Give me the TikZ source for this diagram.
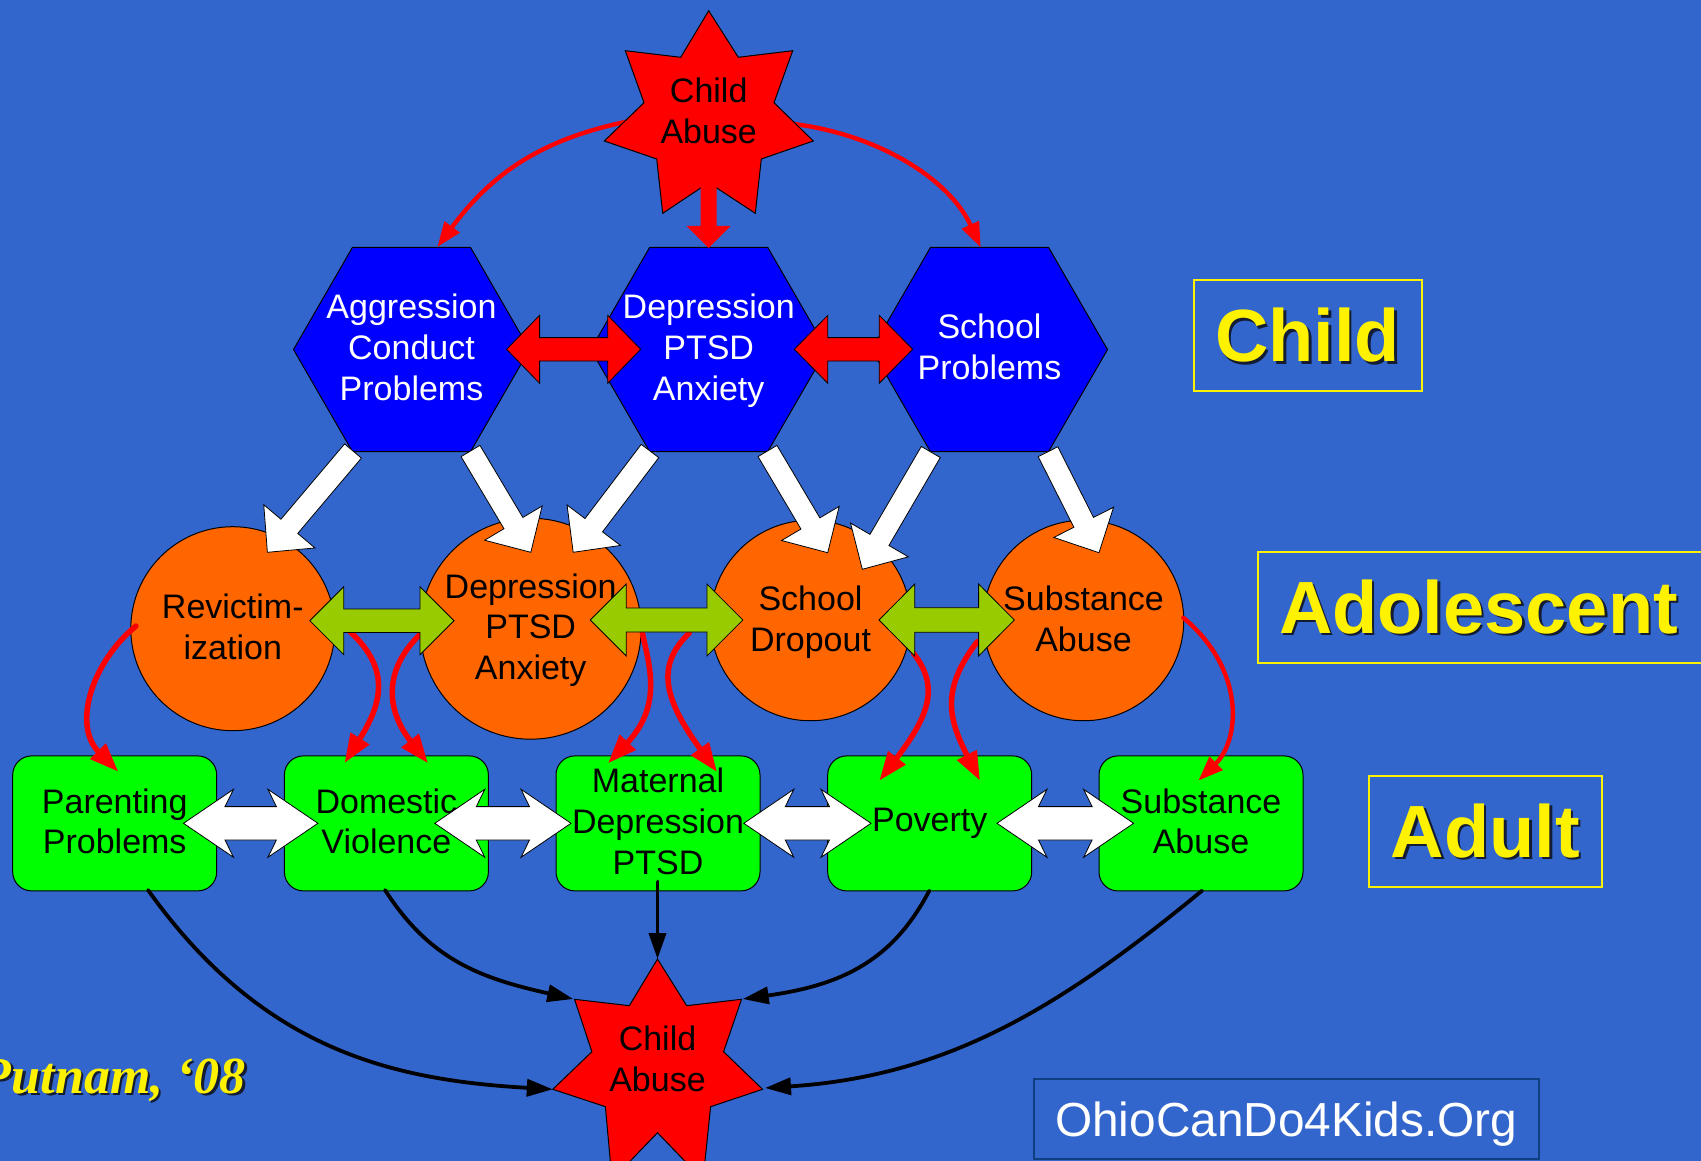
\documentclass[tikz,border=0pt]{standalone}
\usepackage{fontspec}
\setmainfont{Liberation Sans}
\newfontfamily\putfont{Liberation Serif}
\usetikzlibrary{calc,shapes.geometric,arrows.meta}
\definecolor{bgblue}{HTML}{3366CC}
\definecolor{hexblue}{HTML}{0000FF}
\definecolor{orng}{HTML}{FF6600}
\definecolor{grn}{HTML}{00FF00}
\definecolor{olive}{HTML}{99CC00}
\definecolor{navy}{HTML}{0E3F80}
\definecolor{shad}{HTML}{141C34}
\newcommand\shadowed[1]{\leavevmode\rlap{\kern2.5pt\raisebox{-2.5pt}{\color{shad}#1}}#1}
\newcommand\firststrut{\rule{0pt}{32.6pt}}
% tail, tip, half shaft width, half head width, head length
\newcommand\blockarrow[6][]{%
  \coordinate (ba) at ($(#3)!#6!(#2)$);
  \draw[#1] ($(#2)!#4!90:(#3)$) -- ($(ba)!#4!90:(#3)$) -- ($(ba)!#5!90:(#3)$) -- (#3)
    -- ($(ba)!#5!-90:(#3)$) -- ($(ba)!#4!-90:(#3)$) -- ($(#2)!#4!-90:(#3)$) -- cycle;}
% left tip, right tip (horizontal), join offset, barb offset, half shaft, half head
\newcommand\dblarrow[7][]{%
  \draw[#1] (#2) -- ($(#2)+(#5,-#7)$) -- ($(#2)+(#4,-#6)$) -- ($(#3)+(-#4,-#6)$) -- ($(#3)+(-#5,-#7)$)
    -- (#3) -- ($(#3)+(-#5,#7)$) -- ($(#3)+(-#4,#6)$) -- ($(#2)+(#4,#6)$) -- ($(#2)+(#5,#7)$) -- cycle;}
\tikzset{
  body/.style={font=\fontsize{34}{40.8}\selectfont,align=center,inner sep=0pt,outer sep=0pt},
  hexshape/.style={shape=regular polygon,regular polygon sides=6,minimum size=236pt,inner sep=0pt,outer sep=0pt,draw=black,line width=1pt,fill=hexblue},
  hextext/.style={body,text=white},
  roundel/.style={body,shape=circle,draw=black,line width=1pt,fill=orng},
  greenbox/.style={body,shape=rectangle,rounded corners=19pt,draw=black,line width=1pt,fill=grn,minimum width=204pt,minimum height=135pt},
  starshape/.style={draw=black,line width=1pt,fill=red},
  startext/.style={body,text=black},
  levelbox/.style={draw=yellow,line width=2pt,text=yellow,font=\bfseries\fontsize{74}{88}\selectfont,inner sep=0pt,outer sep=0pt,shape=rectangle},
  redthick/.style={draw=red,line width=5.5pt,line cap=round,-{Triangle[length=29pt,width=21pt]}},
  redthin/.style={draw=red,line width=4.4pt,line cap=round,-{Triangle[length=25pt,width=18pt]}},
  blackcurve/.style={draw=black,line width=3.8pt,line cap=round,-{Triangle[length=26pt,width=17pt]}},
  whitearrow/.style={draw=black,line width=.8pt,fill=white,line join=miter},
  redblock/.style={draw=none,fill=red},
  greenblock/.style={draw=black,line width=.8pt,fill=olive},
}
\begin{document}
\begin{tikzpicture}[x=1pt,y=-1pt]
\clip (0,0) rectangle (1701,1161);
\fill[bgblue] (0,0) rectangle (1701,1161);

% level labels
\node[levelbox,minimum width=228pt,minimum height=111pt,text height=52.4pt,text depth=0pt] (lchild) at (1307.6,335.5) {\shadowed{Child}};
\node[levelbox,anchor=west,minimum height=111pt,inner xsep=21pt,text height=51.6pt,text depth=0pt] (ladol) at (1258,607.2) {\shadowed{Adolescent}\kern40pt};
\node[levelbox,minimum width=233pt,minimum height=111pt,text height=51pt,text depth=0pt] (ladult) at (1485.5,831.5) {\shadowed{Adult}};
\node[draw=navy,line width=2pt,text=white,font=\fontsize{47.8}{56}\selectfont,minimum width=505pt,minimum height=80pt,inner sep=0pt,outer sep=0pt,text height=35pt,text depth=0pt] (lsite) at (1286.3,1119.2) {OhioCanDo4Kids.Org};
\node[anchor=base east,text=yellow,inner sep=0pt,font=\putfont\bfseries\itshape\fontsize{52}{60}\selectfont] (lauthor) at (246,1093) {\shadowed{Putnam, ‘08}};

% end points of the top curves
\coordinate (topL) at (626.7,121.7);
\coordinate (topR) at (794,124);
\coordinate (hexLtop) at (437.3,247);
\coordinate (hexRtop) at (980.7,247.5);
\draw[redthin] (topL) .. controls (538,140) and (490,176) .. (hexLtop);
\draw[redthin] (topR) .. controls (880,135) and (950,180) .. (hexRtop);

% top star
\draw[starshape] (708.7,10.7) -- (738.3,57.3) -- (792.7,50.7) -- (774,102.7) -- (813.3,141) -- (761.3,159) -- (755.3,213.3) -- (708.7,182.7) -- (662.7,213.3) -- (656.7,159) -- (604.3,141) -- (644,102.7) -- (625.3,50.7) -- (680.7,57.3) -- cycle;
\node[startext] (abuseTop) at (708.7,113) {\firststrut Child\\\strut Abuse};

% hexagons
\node[hexshape] (hexA) at (411.5,349.5) {};
\node[hexshape] (hexB) at (708.7,349.5) {};
\node[hexshape] (hexC) at (989.5,349.5) {};
\node[hextext] (hexAt) at (411.5,349.5) {\firststrut Aggression\\\strut Conduct\\\strut Problems};
\node[hextext] (hexBt) at (708.7,349.5) {\firststrut Depression\\\strut PTSD\\\strut Anxiety};
\node[hextext] (hexCt) at (989.5,349) {\firststrut School\\\strut Problems};

% red block arrows
\coordinate (downS) at (708.7,181);
\coordinate (downE) at (708.7,248);
\blockarrow[redblock]{downS}{downE}{8pt}{22pt}{22pt}
\coordinate (abL) at (506.6,349.3);
\coordinate (abR) at (640.7,349.3);
\coordinate (bcL) at (794.3,349.3);
\coordinate (bcR) at (912.7,349.3);
\dblarrow[draw=black,line width=.8pt,fill=red]{abL}{abR}{33}{33}{11.7}{34}
\dblarrow[draw=black,line width=.8pt,fill=red]{bcL}{bcR}{33.5}{33.5}{11.7}{34}

% circles
\node[roundel,minimum size=204pt] (rev) at (232.8,628.7) {\firststrut Revictim-\\\strut ization};
\node[roundel,minimum size=221pt] (dep) at (530.7,628.7) {\firststrut Depression\\\strut PTSD\\\strut Anxiety};
\node[roundel,minimum size=200.5pt] (drop) at (810.5,620.5) {\firststrut School\\\strut Dropout};
\node[roundel,minimum size=200.5pt] (subA) at (1083.5,620.5) {\firststrut Substance\\\strut Abuse};

% white arrows from hexagons
\coordinate (w1s) at (353,451);   \coordinate (w1e) at (267.4,552.3);
\coordinate (w2s) at (470.5,451); \coordinate (w2e) at (530.8,552.3);
\coordinate (w3s) at (650,451);   \coordinate (w3e) at (573.2,552.3);
\coordinate (w4s) at (767.5,451); \coordinate (w4e) at (827.7,552.7);
\coordinate (w5s) at (930.8,452); \coordinate (w5e) at (862.3,569.3);
\coordinate (w6s) at (1048,451.7);\coordinate (w6e) at (1099,552.7);
\blockarrow[whitearrow]{w1s}{w1e}{11pt}{33.5pt}{34pt}
\blockarrow[whitearrow]{w2s}{w2e}{11pt}{33.5pt}{34pt}
\blockarrow[whitearrow]{w3s}{w3e}{11pt}{33.5pt}{34pt}
\blockarrow[whitearrow]{w4s}{w4e}{11pt}{33.5pt}{34pt}
\blockarrow[whitearrow]{w5s}{w5e}{11pt}{33.5pt}{34pt}
\blockarrow[whitearrow]{w6s}{w6e}{11pt}{33.5pt}{34pt}

% green boxes
\node[greenbox] (par) at (114.7,823.4) {\firststrut Parenting\\\strut Problems};
\node[greenbox] (dom) at (386.4,823.4) {\firststrut Domestic\\\strut Violence};
\node[greenbox] (mat) at (658,823.4) {\firststrut Maternal\\\strut Depression\\\strut PTSD};
\node[greenbox] (pov) at (929.7,823.4) {\strut Poverty};
\node[greenbox] (subB) at (1201,823.4) {\firststrut Substance\\\strut Abuse};

% red curves between the rows
\coordinate (r1s) at (136,626);    \coordinate (r1e) at (118.3,771.7);
\coordinate (r2s) at (350,631.7);  \coordinate (r2e) at (344.6,763);
\coordinate (r3s) at (420.5,634);  \coordinate (r3e) at (428,763.3);
\coordinate (r4s) at (642.4,633);  \coordinate (r4e) at (608,763.3);
\coordinate (r5s) at (689.3,633);  \coordinate (r5e) at (717,772);
\coordinate (r6s) at (913.3,653);  \coordinate (r6e) at (879.3,780.7);
\coordinate (r7s) at (977.3,641.7);\coordinate (r7e) at (980,780.7);
\coordinate (r8s) at (1183.3,617.7);\coordinate (r8e) at (1198.3,780.7);
\draw[redthick] (r1s) .. controls (92,662) and (72,725) .. (r1e);
\draw[redthick] (r2s) .. controls (392,670) and (381,705) .. (r2e);
\draw[redthick] (r3s) .. controls (383,670) and (386,710) .. (r3e);
\draw[redthick] (r4s) .. controls (649,665) and (663,705) .. (r4e);
\draw[redthick] (r5s) .. controls (656,665) and (663,698) .. (r5e);
\draw[redthick] (r6s) .. controls (938,685) and (932,712) .. (r6e);
\draw[redthick] (r7s) .. controls (940,690) and (949,720) .. (r7e);
\draw[redthin] (r8s) .. controls (1246,670) and (1240,740) .. (r8e);

% green block arrows
\coordinate (g1L) at (309.8,620.7); \coordinate (g1R) at (454,620.7);
\coordinate (g2L) at (590.2,620);   \coordinate (g2R) at (742.9,620);
\coordinate (g3L) at (879,620);     \coordinate (g3R) at (1014.3,620);
\dblarrow[greenblock]{g1L}{g1R}{34}{34}{11.7}{34}
\dblarrow[greenblock]{g2L}{g2R}{36}{36}{12}{36}
\dblarrow[greenblock]{g3L}{g3R}{35.7}{35.7}{12.3}{36}

% white block arrows between boxes
\coordinate (x1L) at (183.5,823.3); \coordinate (x1R) at (317.9,823.3);
\coordinate (x2L) at (434.8,823.3); \coordinate (x2R) at (571,823.3);
\coordinate (x3L) at (743.8,823.3); \coordinate (x3R) at (871,823.3);
\coordinate (x4L) at (997,823.3);   \coordinate (x4R) at (1133.6,823.3);
\dblarrow[whitearrow]{x1L}{x1R}{41.5}{50}{16.7}{34}
\dblarrow[whitearrow]{x2L}{x2R}{41.5}{50}{16.7}{34}
\dblarrow[whitearrow]{x3L}{x3R}{41.5}{50}{16.7}{34}
\dblarrow[whitearrow]{x4L}{x4R}{41.5}{50}{16.7}{34}

% bottom star
\draw[starshape] (657.5,959) -- (686.7,1005.7) -- (741.5,999.3) -- (723.6,1051.7) -- (762.6,1089.3) -- (710.6,1106.7) -- (703,1180) -- (657.5,1132.7) -- (612,1180) -- (605.4,1106.7) -- (552.8,1089.3) -- (591.9,1051.7) -- (574.5,999.3) -- (629.3,1005.7) -- cycle;
\node[startext] (abuseBot) at (657.5,1060.5) {\firststrut Child\\\strut Abuse};

% black curves into the bottom star
\coordinate (b1s) at (148,890);   \coordinate (b1e) at (552.8,1089.3);
\coordinate (b2s) at (385,890);   \coordinate (b2e) at (573.3,999);
\coordinate (b3s) at (657.5,881.7); \coordinate (b3e) at (657.5,959);
\coordinate (b4s) at (929.3,890.7); \coordinate (b4e) at (742.7,999);
\coordinate (b5s) at (1202,890.7);\coordinate (b5e) at (765,1088);
\draw[blackcurve] (b1s) .. controls (262,1050) and (392,1080) .. (b1e);
\draw[blackcurve] (b2s) .. controls (430,960) and (480,978) .. (b2e);
\draw[blackcurve] (b3s) -- (b3e);
\draw[blackcurve] (b4s) .. controls (893,960) and (843,985) .. (b4e);
\draw[blackcurve] (b5s) .. controls (1063,1005) and (950,1076) .. (b5e);
\end{tikzpicture}
\end{document}
